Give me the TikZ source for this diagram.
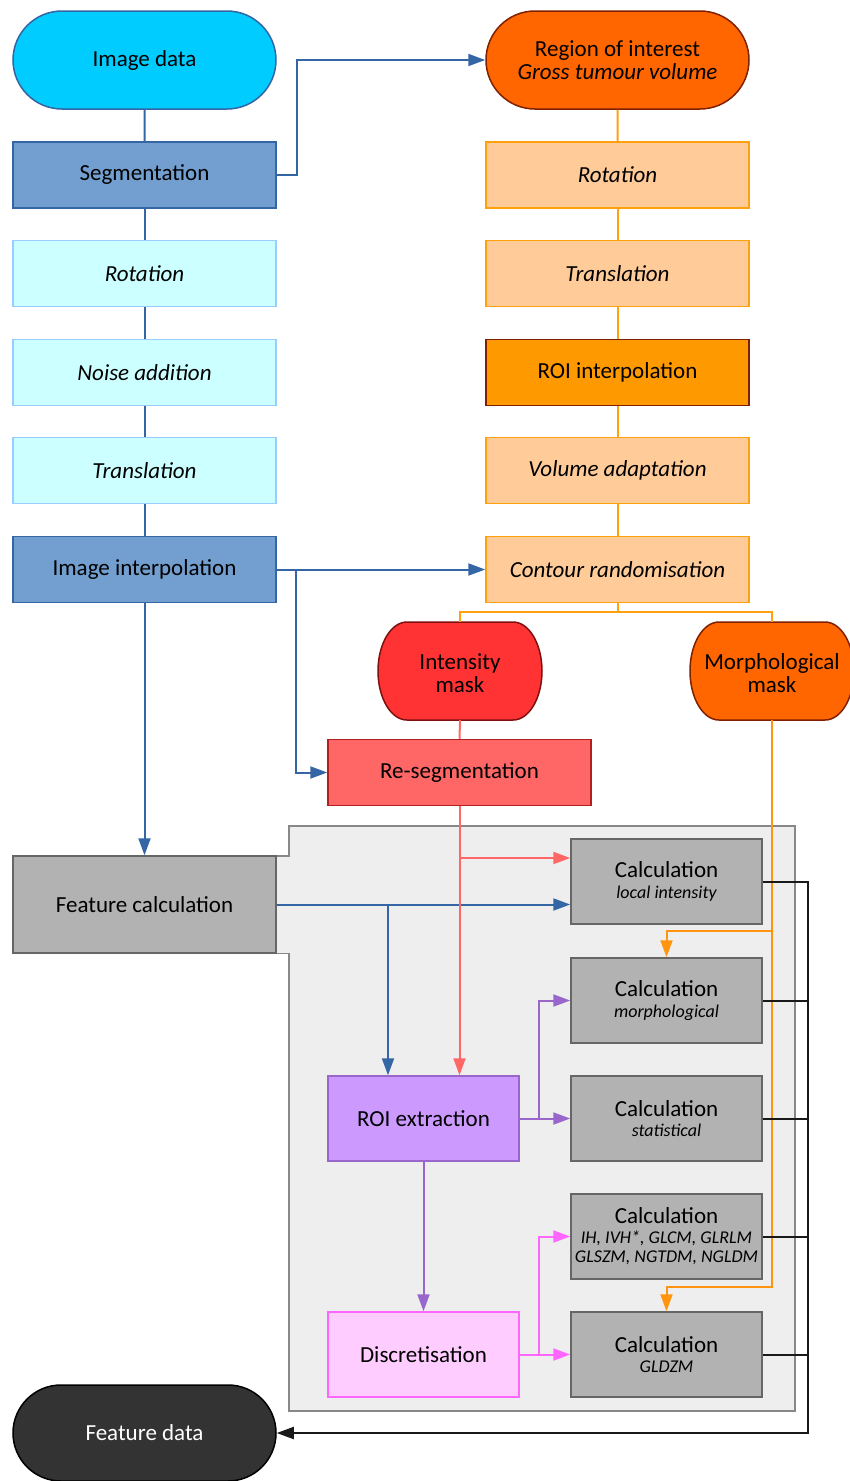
\documentclass[tikz,border=0pt]{standalone}
\usepackage{fontspec}
\setmainfont{Carlito}
\usetikzlibrary{arrows.meta,shapes.misc,calc}
\definecolor{imgcyan}{HTML}{00CCFF}
\definecolor{dblue}{HTML}{3465A4}
\definecolor{segfill}{HTML}{729FCF}
\definecolor{lightfill}{HTML}{CCFFFF}
\definecolor{lightborder}{HTML}{99CCFF}
\definecolor{roifill}{HTML}{FF6600}
\definecolor{roiborder}{HTML}{802000}
\definecolor{orlight}{HTML}{FFCC99}
\definecolor{orline}{HTML}{FFA00F}
\definecolor{orarrow}{HTML}{FF950E}
\definecolor{roiint}{HTML}{FF9900}
\definecolor{intfill}{HTML}{FF3333}
\definecolor{intborder}{HTML}{7F1010}
\definecolor{resegfill}{HTML}{FF6666}
\definecolor{resegborder}{HTML}{B02020}
\definecolor{featgray}{HTML}{B2B2B2}
\definecolor{grayborder}{HTML}{666666}
\definecolor{panel}{HTML}{EEEEEE}
\definecolor{panelborder}{HTML}{888888}
\definecolor{roiext}{HTML}{CC99FF}
\definecolor{purpleline}{HTML}{9966CC}
\definecolor{discfill}{HTML}{FFCCFF}
\definecolor{pinkline}{HTML}{FF66FF}
\definecolor{fdfill}{HTML}{333333}
\newcommand{\mainfs}{\fontsize{23}{23.5}\selectfont}
\newcommand{\subfs}{\fontsize{18}{19}\selectfont\itshape}
\tikzset{
  box/.style={rectangle, minimum width=263pt, minimum height=66pt, inner sep=0pt, line width=1.5pt, font=\mainfs, align=center},
  calcbox/.style={rectangle, minimum width=191pt, minimum height=85pt, inner sep=0pt, line width=1.5pt, font=\mainfs, align=center},
  stadium/.style={rounded rectangle, minimum width=263pt, minimum height=98pt, inner sep=0pt, line width=1.5pt, font=\mainfs, align=center},
  conn/.style={line width=2pt, line join=miter},
  arr/.style={-{Triangle[length=17pt,width=12pt]}},
}
\newcommand{\maskshape}[3]{%
  \draw[fill=#2, draw=#3, line width=1.5pt]
    ($(#1)+(-53,-49)$) -- ($(#1)+(53,-49)$)
    arc[start angle=90, end angle=-90, x radius=29pt, y radius=49pt]
    -- ($(#1)+(-53,49)$)
    arc[start angle=-90, end angle=-270, x radius=29pt, y radius=49pt] -- cycle;}
\begin{document}
\begin{tikzpicture}[x=1pt,y=-1pt]
\useasboundingbox (0,0) rectangle (850,1481);
% panel
\draw[fill=panel, draw=panelborder, line width=1.2pt]
  (289,826) -- (795,826) -- (795,1411) -- (289,1411) -- (289,953.5) -- (276,953.5) -- (276,856) -- (289,856) -- cycle;
% left column
\node[stadium, fill=imgcyan, draw=dblue] (img) at (144.5,60) {Image data};
\node[box, fill=segfill, draw=dblue] (seg) at (144.5,175) {Segmentation};
\node[box, fill=lightfill, draw=lightborder, font=\mainfs\itshape] (rot) at (144.5,273.5) {Rotation};
\node[box, fill=lightfill, draw=lightborder, font=\mainfs\itshape] (noise) at (144.5,372.5) {Noise addition};
\node[box, fill=lightfill, draw=lightborder, font=\mainfs\itshape] (trans) at (144.5,470.5) {Translation};
\node[box, fill=segfill, draw=dblue] (interp) at (144.5,569.5) {Image interpolation};
\node[box, fill=featgray, draw=grayborder, minimum height=97pt] (feat) at (144.5,904.5) {Feature calculation};
\node[stadium, fill=fdfill, draw=black, text=white, minimum height=96pt] (fd) at (144.5,1433) {Feature data};
% right column
\node[stadium, fill=roifill, draw=roiborder] (roi) at (617.5,60) {Region of interest\\\textit{Gross tumour volume}};
\node[box, fill=orlight, draw=orline, font=\mainfs\itshape] (rrot) at (617.5,175) {Rotation};
\node[box, fill=orlight, draw=orline, font=\mainfs\itshape] (rtrans) at (617.5,273.5) {Translation};
\node[box, fill=roiint, draw=roiborder] (roiint) at (617.5,372.5) {ROI interpolation};
\node[box, fill=orlight, draw=orline, font=\mainfs\itshape] (vol) at (617.5,470.5) {Volume adaptation};
\node[box, fill=orlight, draw=orline, font=\mainfs\itshape] (cont) at (617.5,569.5) {Contour randomisation};
% masks
\maskshape{460,671}{intfill}{intborder}
\node[rectangle, minimum width=164pt, minimum height=98pt, inner sep=0pt, font=\mainfs, align=center] (im) at (460,673) {Intensity\\mask};
\maskshape{772,671}{roifill}{roiborder}
\node[rectangle, minimum width=164pt, minimum height=98pt, inner sep=0pt, font=\mainfs, align=center] (mm) at (772,673) {Morphological\\mask};
\node[box, fill=resegfill, draw=resegborder] (reseg) at (459.5,772.5) {Re-segmentation};
% inner boxes
\node[calcbox, fill=roiext, draw=purpleline] (rx) at (423.5,1118.5) {ROI extraction};
\node[calcbox, fill=discfill, draw=pinkline] (disc) at (423.5,1354.5) {Discretisation};
\node[calcbox, fill=featgray, draw=grayborder] (c1) at (666.5,881.5) {Calculation\\[-3pt]{\subfs local intensity}};
\node[calcbox, fill=featgray, draw=grayborder] (c2) at (666.5,1000.5) {Calculation\\[-3pt]{\subfs morphological}};
\node[calcbox, fill=featgray, draw=grayborder] (c3) at (666.5,1118.5) {Calculation\\[-3pt]{\subfs statistical}};
\node[calcbox, fill=featgray, draw=grayborder] (c4) at (666.5,1236.5) {Calculation\\[-4pt]{\subfs IH, IVH*, GLCM, GLRLM}\\[-4pt]{\subfs GLSZM, NGTDM, NGLDM}};
\node[calcbox, fill=featgray, draw=grayborder] (c5) at (666.5,1354.5) {Calculation\\[-3pt]{\subfs GLDZM}};
% blue connectors
\draw[conn, dblue] (img) -- (seg);
\draw[conn, dblue] (seg) -- (rot);
\draw[conn, dblue] (rot) -- (noise);
\draw[conn, dblue] (noise) -- (trans);
\draw[conn, dblue] (trans) -- (interp);
\draw[conn, dblue, arr] (seg.east) -- ++(20,0) |- (roi.west);
\draw[conn, dblue, arr] (interp.east) -- (cont.west);
\coordinate (bb) at (296,569.5);
\draw[conn, dblue, arr] (bb) |- (reseg.west);
\draw[conn, dblue, arr] (interp.south) -- (feat.north);
\draw[conn, dblue, arr] (feat.east) -- (feat.east -| c1.west);
\coordinate (fb) at (388,904.5);
\draw[conn, dblue, arr] (fb) -- (fb |- rx.north);
% orange connectors
\draw[conn, orline] (roi) -- (rrot);
\draw[conn, orline] (rrot) -- (rtrans);
\draw[conn, orline] (rtrans) -- (roiint);
\draw[conn, orline] (roiint) -- (vol);
\draw[conn, orline] (vol) -- (cont);
\coordinate (oj) at (617.5,612);
\draw[conn, orline] (cont.south) -- (oj);
\draw[conn, orline] ($(im.north)+(0,-2)$) |- (oj) -| ($(mm.north)+(0,-2)$);
\coordinate (o1) at (772,1287);
\coordinate (o2) at (772,931);
\draw[conn, orarrow, arr] ($(mm.south)+(0,-2)$) -- (o1) -- (o1 -| c5.north) -- (c5.north);
\draw[conn, orarrow, arr] (o2) -- (o2 -| c2.north) -- (c2.north);
% red connectors
\draw[conn, resegfill] ($(im.south)+(0,-2)$) -- (reseg.north);
\draw[conn, resegfill, arr] (reseg.south) -- (reseg.south |- rx.north);
\coordinate (rb) at (459.5,858);
\draw[conn, resegfill, arr] (rb) -- (rb -| c1.west);
% purple
\draw[conn, purpleline, arr] (rx.east) -- (c3.west);
\coordinate (pb) at (539,1118.5);
\draw[conn, purpleline, arr] (pb) |- (c2.west);
\draw[conn, purpleline, arr] (rx.south) -- (disc.north);
% pink
\draw[conn, pinkline, arr] (disc.east) -- (c5.west);
\coordinate (kb) at (539,1354.5);
\draw[conn, pinkline, arr] (kb) |- (c4.west);
% black bus
\coordinate (bus) at (808,1433);
\draw[conn, black!90, arr] (c1.east) -| (bus) -- (fd.east);
\draw[conn, black!90] (c2.east) -- (c2.east -| bus);
\draw[conn, black!90] (c3.east) -- (c3.east -| bus);
\draw[conn, black!90] (c4.east) -- (c4.east -| bus);
\draw[conn, black!90] (c5.east) -- (c5.east -| bus);
\end{tikzpicture}
\end{document}
